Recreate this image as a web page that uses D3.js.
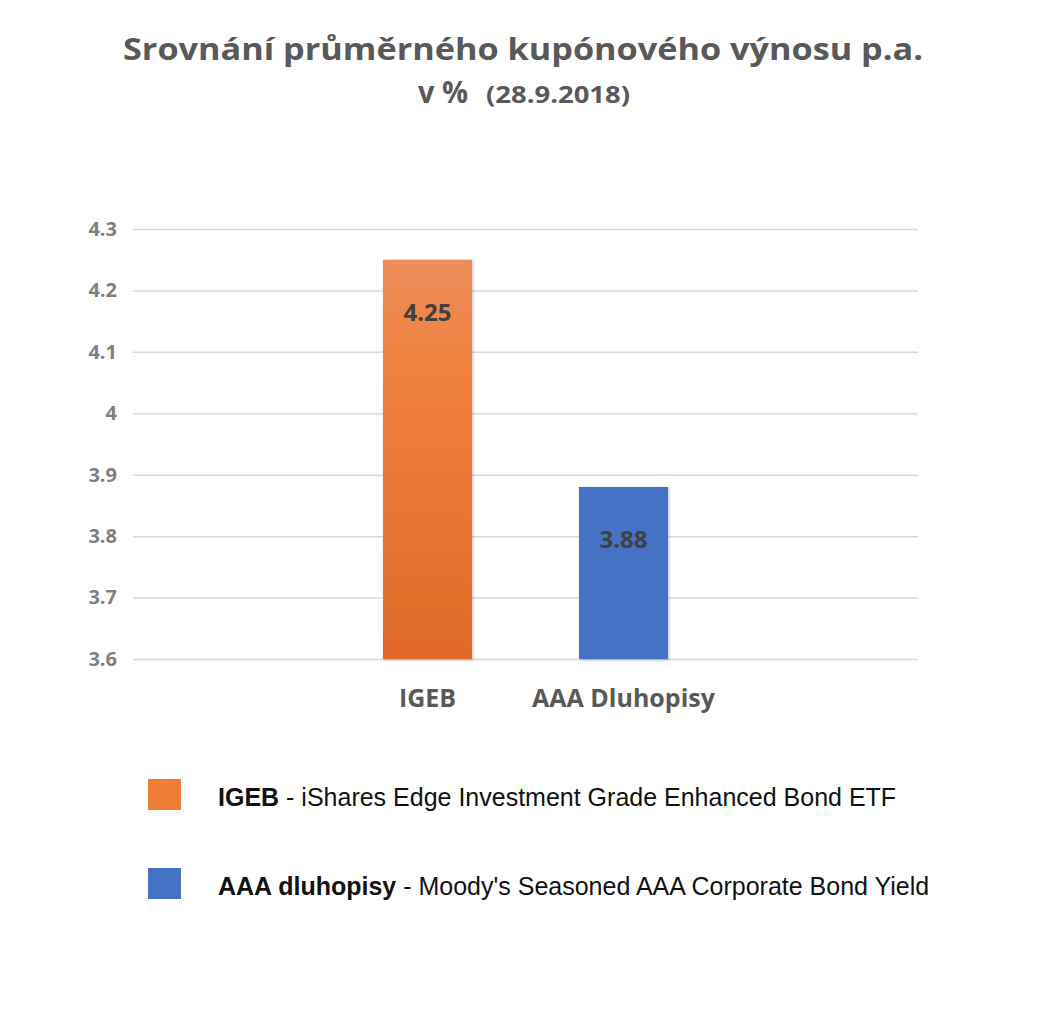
<!DOCTYPE html>
<html>
<head>
<meta charset="utf-8">
<script src="https://cdn.jsdelivr.net/npm/d3@7/dist/d3.min.js"></script>
<style>
  body { margin: 0; background: #fff; }
  svg { display: block; }
</style>
</head>
<body>
<svg id="chart"></svg>
<script>
// Chart data
const categories = ['IGEB', 'AAA Dluhopisy'];
const values = [4.25, 3.88];
const yTicks = [3.6, 3.7, 3.8, 3.9, 4, 4.1, 4.2, 4.3];
const legendKeys = ['IGEB', 'AAA dluhopisy'];
const legendTexts = [' - iShares Edge Investment Grade Enhanced Bond ETF', " - Moody's Seasoned AAA Corporate Bond Yield"];

const W = 1054, H = 1028;
const svg = d3.select('#chart').attr('width', W).attr('height', H);

const font = "'Open Sans', 'Lato', sans-serif";
const grey = '#595959';

// Title
const title = svg.append('g').attr('font-family', font).attr('font-weight', 'bold').attr('fill', grey);
title.append('text')
    .attr('x', 523).attr('y', 60)
    .attr('text-anchor', 'middle')
    .attr('font-size', 31)
    .attr('textLength', 800).attr('lengthAdjust', 'spacingAndGlyphs')
    .text('Srovnání průměrného kupónového výnosu p.a.');
title.append('text')
    .attr('x', 418).attr('y', 103)
    .attr('font-size', 31)
    .attr('textLength', 50).attr('lengthAdjust', 'spacingAndGlyphs')
    .text('v %');
title.append('text')
    .attr('x', 486).attr('y', 103)
    .attr('font-size', 23)
    .attr('textLength', 144).attr('lengthAdjust', 'spacingAndGlyphs')
    .text('(28.9.2018)');

// Scales
const margin = {left: 133, right: 136, top: 229, bottom: 369};
const x = d3.scaleBand()
    .domain(categories)
    .range([margin.left, W - margin.right])
    .paddingInner(0.546)
    .paddingOuter(1.275);
const y = d3.scaleLinear()
    .domain([3.6, 4.3])
    .range([H - margin.bottom, margin.top]);

// Grid lines + y labels
const yAxis = d3.axisLeft(y)
    .tickValues(yTicks)
    .tickSize(-(W - margin.left - margin.right))
    .tickPadding(16)
    .tickFormat(d => d3.format('~g')(d));
const gy = svg.append('g')
    .attr('transform', `translate(${margin.left},0)`)
    .call(yAxis);
gy.select('.domain').remove();
gy.selectAll('.tick line').attr('stroke', '#d9d9d9').attr('stroke-width', 1.5);
gy.selectAll('.tick text')
    .attr('font-family', font).attr('font-weight', 'bold')
    .attr('font-size', 20).attr('fill', '#7f7f7f');

// Gradient for the orange bar
const defs = svg.append('defs');
const grad = defs.append('linearGradient').attr('id', 'orangeGrad')
    .attr('x1', 0).attr('y1', 0).attr('x2', 0).attr('y2', 1);
grad.append('stop').attr('offset', '0%').attr('stop-color', '#ed8d5c');
grad.append('stop').attr('offset', '30%').attr('stop-color', '#f0803c');
grad.append('stop').attr('offset', '100%').attr('stop-color', '#e06a27');
const shadow = defs.append('filter').attr('id', 'shadow')
    .attr('x', '-10%').attr('y', '-10%').attr('width', '130%').attr('height', '130%');
shadow.append('feDropShadow').attr('dx', 1).attr('dy', 1).attr('stdDeviation', 1.5)
    .attr('flood-color', '#000').attr('flood-opacity', 0.25);

const fills = ['url(#orangeGrad)', '#4472c4'];

// Bars
svg.selectAll('.bar')
    .data(values)
    .enter().append('rect')
    .attr('class', 'bar')
    .attr('x', (d, i) => x(categories[i]))
    .attr('y', d => y(d))
    .attr('width', x.bandwidth())
    .attr('height', d => y(3.6) - y(d))
    .attr('fill', (d, i) => fills[i])
    .attr('filter', 'url(#shadow)');

// Value labels
svg.selectAll('.val')
    .data(values)
    .enter().append('text')
    .attr('class', 'val')
    .attr('x', (d, i) => x(categories[i]) + x.bandwidth() / 2)
    .attr('y', d => y(d - 0.1))
    .attr('text-anchor', 'middle')
    .attr('font-family', font).attr('font-weight', 'bold')
    .attr('font-size', 24).attr('fill', '#404040')
    .text(d => d3.format('.2f')(d));

// Category labels
const xAxis = d3.axisBottom(x).tickSize(0).tickPadding(30);
const gx = svg.append('g')
    .attr('transform', `translate(0,${y(3.6)})`)
    .call(xAxis);
gx.select('.domain').remove();
gx.selectAll('.tick text')
    .attr('font-family', font).attr('font-weight', 'bold')
    .attr('font-size', 25).attr('fill', grey);

// Legend
const legendColors = ['#f07d35', '#4472c4'];
const leg = svg.append('g').attr('transform', 'translate(148,779)');
const rows = leg.selectAll('g')
    .data(legendKeys)
    .enter().append('g')
    .attr('transform', (d, i) => `translate(0,${i * 89})`);
rows.append('rect')
    .attr('width', 33).attr('height', 31)
    .attr('fill', (d, i) => legendColors[i]);
const lt = rows.append('text')
    .attr('x', 70).attr('y', 27)
    .attr('font-family', "'Liberation Sans', Arial, sans-serif")
    .attr('font-size', 25).attr('fill', '#111');
lt.append('tspan').attr('font-weight', 'bold').text(d => d);
lt.append('tspan').text((d, i) => legendTexts[i]);
</script>
</body>
</html>
